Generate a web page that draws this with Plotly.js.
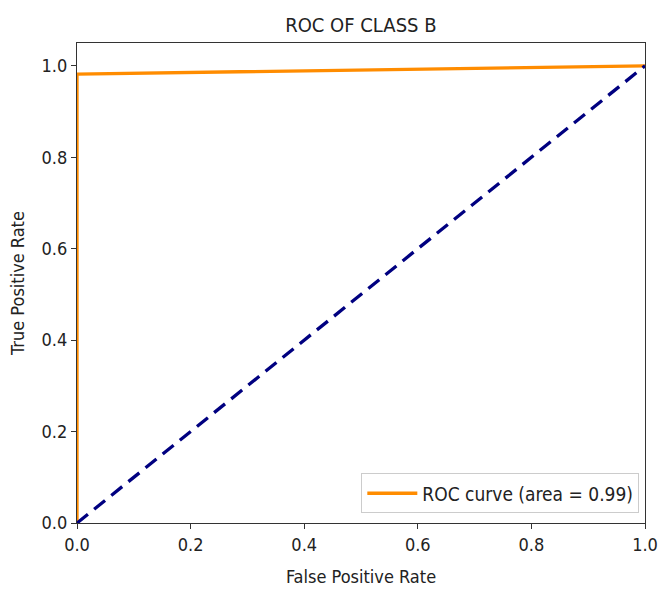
<!DOCTYPE html>
<html>
<head>
<meta charset="utf-8">
<script src="https://cdn.plot.ly/plotly-3.0.1.min.js"></script>
<style>html,body{margin:0;padding:0;background:#fff;}#chart{width:667px;height:591px;}</style>
</head>
<body>
<div id="chart"></div>
<script>
const rocFpr = [0.0, 0.0, 1.0];
const rocTpr = [0.0, 0.982, 1.0];
const diagX = [0, 1];
const diagY = [0, 1];
const tickVals = [0, 0.2, 0.4, 0.6, 0.8, 1.0];
const tickText = ["0.0", "0.2", "0.4", "0.6", "0.8", "1.0"];
const rocLabel = "ROC curve (area = 0.99)";

const FONT = "'DejaVu Sans Condensed', 'Liberation Sans Narrow', 'DejaVu Sans', sans-serif";

const traces = [
  {x: rocFpr, y: rocTpr, mode: 'lines', name: rocLabel,
   line: {color: '#ff8c00', width: 3.3}, showlegend: true},
  {x: diagX, y: diagY, mode: 'lines', name: 'chance',
   line: {color: '#000080', width: 3.3, dash: '14px,8px'}, showlegend: false}
];

const axisCommon = {
  showgrid: false, zeroline: false, showline: true, mirror: true,
  linecolor: '#333', linewidth: 1.2, ticks: 'outside', ticklen: 5,
  tickcolor: '#333', tickfont: {family: FONT, size: 18, color: '#222'},
  tickvals: tickVals, ticktext: tickText
};

const layout = {
  width: 667, height: 591,
  margin: {l: 77, r: 22, t: 43, b: 68},
  paper_bgcolor: '#fff', plot_bgcolor: '#fff',
  title: {text: 'ROC OF CLASS B', font: {family: FONT, size: 20, color: '#222'},
          x: 0.541, xanchor: 'center', y: 0.957, yanchor: 'middle'},
  xaxis: Object.assign({}, axisCommon, {range: [0, 1],
    title: {text: 'False Positive Rate', font: {family: FONT, size: 18, color: '#222'}, standoff: 16}}),
  yaxis: Object.assign({}, axisCommon, {range: [0, 1.05],
    title: {text: 'True Positive Rate', font: {family: FONT, size: 18, color: '#222'}, standoff: 12}}),
  legend: {x: 0.99, y: 0.02, xanchor: 'right', yanchor: 'bottom',
    bgcolor: 'rgba(255,255,255,0.9)', bordercolor: '#ccc', borderwidth: 1,
    itemwidth: 50,
    font: {family: FONT, size: 19, color: '#222'}},
  showlegend: true
};

Plotly.newPlot('chart', traces, layout, {displayModeBar: false, staticPlot: true});
</script>
</body>
</html>
